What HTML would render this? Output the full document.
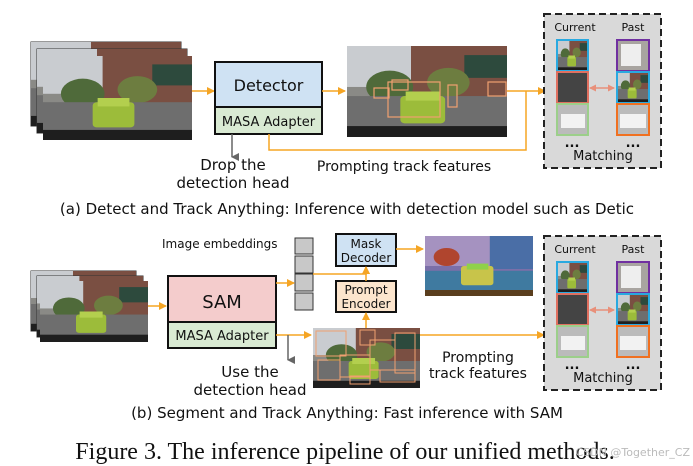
<!DOCTYPE html>
<html><head><meta charset="utf-8"><style>
html,body{margin:0;padding:0;background:#fff;width:693px;height:466px;overflow:hidden}
svg{display:block}
text{font-family:"DejaVu Sans","Liberation Sans",sans-serif;fill:#111}
</style></head><body>
<svg width="693" height="466" viewBox="0 0 693 466" xmlns="http://www.w3.org/2000/svg">
<defs>
<symbol id="ph" viewBox="0 0 150 100" preserveAspectRatio="none">
<rect width="150" height="100" fill="#8a8a86"/>
<rect width="150" height="45" fill="#c9ccd0"/>
<rect x="60" y="0" width="90" height="60" fill="#7a4f42"/>
<rect x="110" y="10" width="40" height="25" fill="#2d4a3d"/>
<ellipse cx="40" cy="45" rx="22" ry="18" fill="#4f6a3a"/>
<ellipse cx="95" cy="40" rx="20" ry="16" fill="#6d7d40"/>
<rect x="0" y="55" width="150" height="45" fill="#6e6e6e"/>
<rect x="0" y="88" width="150" height="12" fill="#1e1e1e"/>
<rect x="50" y="55" width="42" height="30" rx="4" fill="#9cbc3a"/>
<rect x="55" y="50" width="32" height="10" fill="#b3cf4e"/>
</symbol>
<symbol id="seg" viewBox="0 0 150 100" preserveAspectRatio="none">
<rect width="150" height="100" fill="#7b6fa8"/>
<rect x="0" y="0" width="150" height="50" fill="#a592c0"/>
<ellipse cx="30" cy="35" rx="18" ry="15" fill="#b0452e"/>
<rect x="90" y="0" width="60" height="55" fill="#4a6ea6"/>
<rect x="0" y="58" width="150" height="35" fill="#3f7aa0"/>
<rect x="50" y="50" width="45" height="32" rx="4" fill="#c8c44a"/>
<rect x="58" y="46" width="30" height="10" fill="#8fd14a"/>
<rect x="0" y="90" width="150" height="10" fill="#5a3e1e"/>
</symbol>
<marker id="ao" markerWidth="8" markerHeight="8" refX="7" refY="4" orient="auto" markerUnits="userSpaceOnUse"><path d="M0,0 L8,4 L0,8z" fill="#f5a524"/></marker>
<marker id="ag" markerWidth="8" markerHeight="8" refX="4" refY="7" orient="auto" markerUnits="userSpaceOnUse"><path d="M0,0 L8,0 L4,8z" fill="#666"/></marker>
<marker id="ar" markerWidth="7" markerHeight="7" refX="6" refY="3.5" orient="auto-start-reverse" markerUnits="userSpaceOnUse"><path d="M0,0 L7,3.5 L0,7z" fill="#e8907a"/></marker>
</defs>

<!-- ===== TOP ===== -->
<rect x="31" y="42" width="150" height="84" fill="#fff" stroke="#333"/>
<use href="#ph" x="31" y="42" width="150" height="84"/>
<rect x="37" y="49" width="150" height="84" fill="#fff" stroke="#333"/>
<use href="#ph" x="37" y="49" width="150" height="84"/>
<use href="#ph" x="43" y="56" width="149" height="84"/>

<line x1="192" y1="91" x2="214" y2="91" stroke="#f5a524" stroke-width="1.5" marker-end="url(#ao)"/>
<rect x="215" y="62" width="107" height="45" fill="#cfe2f3" stroke="#111" stroke-width="2"/>
<rect x="215" y="107" width="107" height="27" fill="#d9ead3" stroke="#111" stroke-width="2"/>
<text x="268.5" y="91" font-size="16" text-anchor="middle">Detector</text>
<text x="268.5" y="126" font-size="13" text-anchor="middle">MASA Adapter</text>
<line x1="322" y1="91" x2="345" y2="91" stroke="#f5a524" stroke-width="1.5" marker-end="url(#ao)"/>

<use href="#ph" x="347" y="46" width="160" height="91"/>
<g fill="none" stroke="#f0a070" stroke-width="1.2">
<rect x="388" y="82" width="52" height="35"/><rect x="374" y="88" width="15" height="10"/>
<rect x="448" y="85" width="9" height="22"/><rect x="488" y="82" width="18" height="14"/>
<rect x="392" y="80" width="16" height="10"/></g>

<line x1="507" y1="91" x2="545" y2="91" stroke="#f5a524" stroke-width="1.5" marker-end="url(#ao)"/>
<polyline points="269,134 269,150 526,150 526,91" fill="none" stroke="#f5a524" stroke-width="1.5"/>
<line x1="232" y1="134" x2="232" y2="157" stroke="#666" stroke-width="1.5" marker-end="url(#ag)"/>
<text x="233" y="170" font-size="15" text-anchor="middle">Drop the</text>
<text x="233" y="188" font-size="15" text-anchor="middle">detection head</text>
<text x="404" y="171" font-size="14" text-anchor="middle">Prompting track features</text>

<g id="match">
<rect x="544" y="14" width="117" height="154" fill="#d9d9d9" stroke="#222" stroke-width="2" stroke-dasharray="7,4"/>
<text x="575" y="31" font-size="11" text-anchor="middle">Current</text>
<text x="633" y="31" font-size="11" text-anchor="middle">Past</text>
<use href="#ph" x="557" y="40" width="31" height="31"/><rect x="557" y="40" width="31" height="31" fill="none" stroke="#29a9e0" stroke-width="2"/>
<rect x="557" y="72" width="31" height="31" fill="#444"/><rect x="557" y="72" width="31" height="31" fill="none" stroke="#e07060" stroke-width="2"/>
<rect x="557" y="104" width="31" height="31" fill="#bbb"/><rect x="561" y="114" width="24" height="14" fill="#f2f2f2"/><rect x="557" y="104" width="31" height="31" fill="none" stroke="#9ccf8a" stroke-width="2"/>
<rect x="617" y="40" width="32" height="31" fill="#a8a4a0"/><rect x="621" y="44" width="20" height="22" fill="#eee"/><rect x="617" y="40" width="32" height="31" fill="none" stroke="#7030a0" stroke-width="2"/>
<use href="#ph" x="617" y="72" width="32" height="31"/><rect x="617" y="72" width="32" height="31" fill="none" stroke="#29a9e0" stroke-width="2"/>
<rect x="617" y="104" width="32" height="31" fill="#bbb"/><rect x="620" y="114" width="26" height="14" fill="#f2f2f2"/><rect x="617" y="104" width="32" height="31" fill="none" stroke="#f07020" stroke-width="2"/>
<line x1="590" y1="88" x2="614" y2="88" stroke="#e8907a" stroke-width="1.5" marker-start="url(#ar)" marker-end="url(#ar)"/>
<text x="572" y="147" font-size="13" text-anchor="middle" font-weight="bold">...</text>
<text x="633" y="147" font-size="13" text-anchor="middle" font-weight="bold">...</text>
<text x="603" y="160" font-size="13" text-anchor="middle">Matching</text>
</g>

<text x="347" y="214" font-size="15" text-anchor="middle">(a) Detect and Track Anything: Inference with detection model such as Detic</text>

<!-- ===== BOTTOM ===== -->
<rect x="31" y="271" width="105" height="60" fill="#fff" stroke="#333"/>
<use href="#ph" x="31" y="271" width="105" height="60"/>
<rect x="37" y="276" width="106" height="61" fill="#fff" stroke="#333"/>
<use href="#ph" x="37" y="276" width="106" height="61"/>
<use href="#ph" x="40" y="281" width="108" height="61"/>
<line x1="148" y1="306" x2="166" y2="306" stroke="#f5a524" stroke-width="1.5" marker-end="url(#ao)"/>

<rect x="168" y="276" width="108" height="46" fill="#f4cccc" stroke="#111" stroke-width="2"/>
<rect x="168" y="322" width="108" height="26" fill="#d9ead3" stroke="#111" stroke-width="2"/>
<text x="222" y="308" font-size="18" text-anchor="middle">SAM</text>
<text x="222" y="340" font-size="13" text-anchor="middle">MASA Adapter</text>

<text x="162" y="248" font-size="12">Image embeddings</text>
<g fill="#c8c8c8" stroke="#333">
<rect x="295" y="238" width="18" height="16"/><rect x="295" y="256" width="18" height="17"/>
<rect x="295" y="274" width="18" height="17"/><rect x="295" y="293" width="18" height="17"/></g>
<line x1="276" y1="283" x2="294" y2="283" stroke="#f5a524" stroke-width="1.5" marker-end="url(#ao)"/>
<polyline points="313,274 366,274 366,267" fill="none" stroke="#f5a524" stroke-width="1.5" marker-end="url(#ao)"/>

<rect x="336" y="234" width="60" height="32" fill="#cfe2f3" stroke="#111" stroke-width="2"/>
<text x="366" y="248" font-size="12" text-anchor="middle">Mask</text>
<text x="366" y="262" font-size="12" text-anchor="middle">Decoder</text>
<rect x="336" y="281" width="60" height="31" fill="#fce5cd" stroke="#111" stroke-width="2"/>
<text x="366" y="294" font-size="12" text-anchor="middle">Prompt</text>
<text x="366" y="308" font-size="12" text-anchor="middle">Encoder</text>
<line x1="366" y1="281" x2="366" y2="267" stroke="#f5a524" stroke-width="1.5" marker-end="url(#ao)"/>
<line x1="396" y1="249" x2="423" y2="249" stroke="#f5a524" stroke-width="1.5" marker-end="url(#ao)"/>
<use href="#seg" x="425" y="236" width="108" height="60"/>

<line x1="276" y1="335" x2="311" y2="335" stroke="#f5a524" stroke-width="1.5" marker-end="url(#ao)"/>
<line x1="288" y1="335" x2="288" y2="360" stroke="#666" stroke-width="1.5" marker-end="url(#ag)"/>
<use href="#ph" x="313" y="328" width="107" height="60"/>
<g fill="none" stroke="#f0a070" stroke-width="1">
<rect x="316" y="331" width="30" height="25"/><rect x="340" y="355" width="30" height="22"/><rect x="370" y="340" width="25" height="30"/>
<rect x="360" y="330" width="15" height="15"/><rect x="395" y="333" width="20" height="40"/><rect x="318" y="360" width="22" height="20"/>
<rect x="380" y="370" width="35" height="12"/><rect x="350" y="376" width="20" height="8"/></g>
<line x1="366" y1="328" x2="366" y2="313" stroke="#f5a524" stroke-width="1.5" marker-end="url(#ao)"/>
<line x1="420" y1="335" x2="544" y2="335" stroke="#f5a524" stroke-width="1.5" marker-end="url(#ao)"/>

<text x="250" y="377" font-size="15" text-anchor="middle">Use the</text>
<text x="250" y="395" font-size="15" text-anchor="middle">detection head</text>
<text x="478" y="362" font-size="14" text-anchor="middle">Prompting</text>
<text x="478" y="378" font-size="14" text-anchor="middle">track features</text>

<use href="#match" x="0" y="222"/>

<text x="347" y="418" font-size="15" text-anchor="middle">(b) Segment and Track Anything: Fast inference with SAM</text>
<text x="345" y="459" font-size="24" text-anchor="middle" style="font-family:'Liberation Serif',serif">Figure 3. The inference pipeline of our unified methods.</text>
<text x="690" y="456" font-size="11" text-anchor="end" style="fill:#bbb">CSDN @Together_CZ</text>
</svg>
</body></html>
